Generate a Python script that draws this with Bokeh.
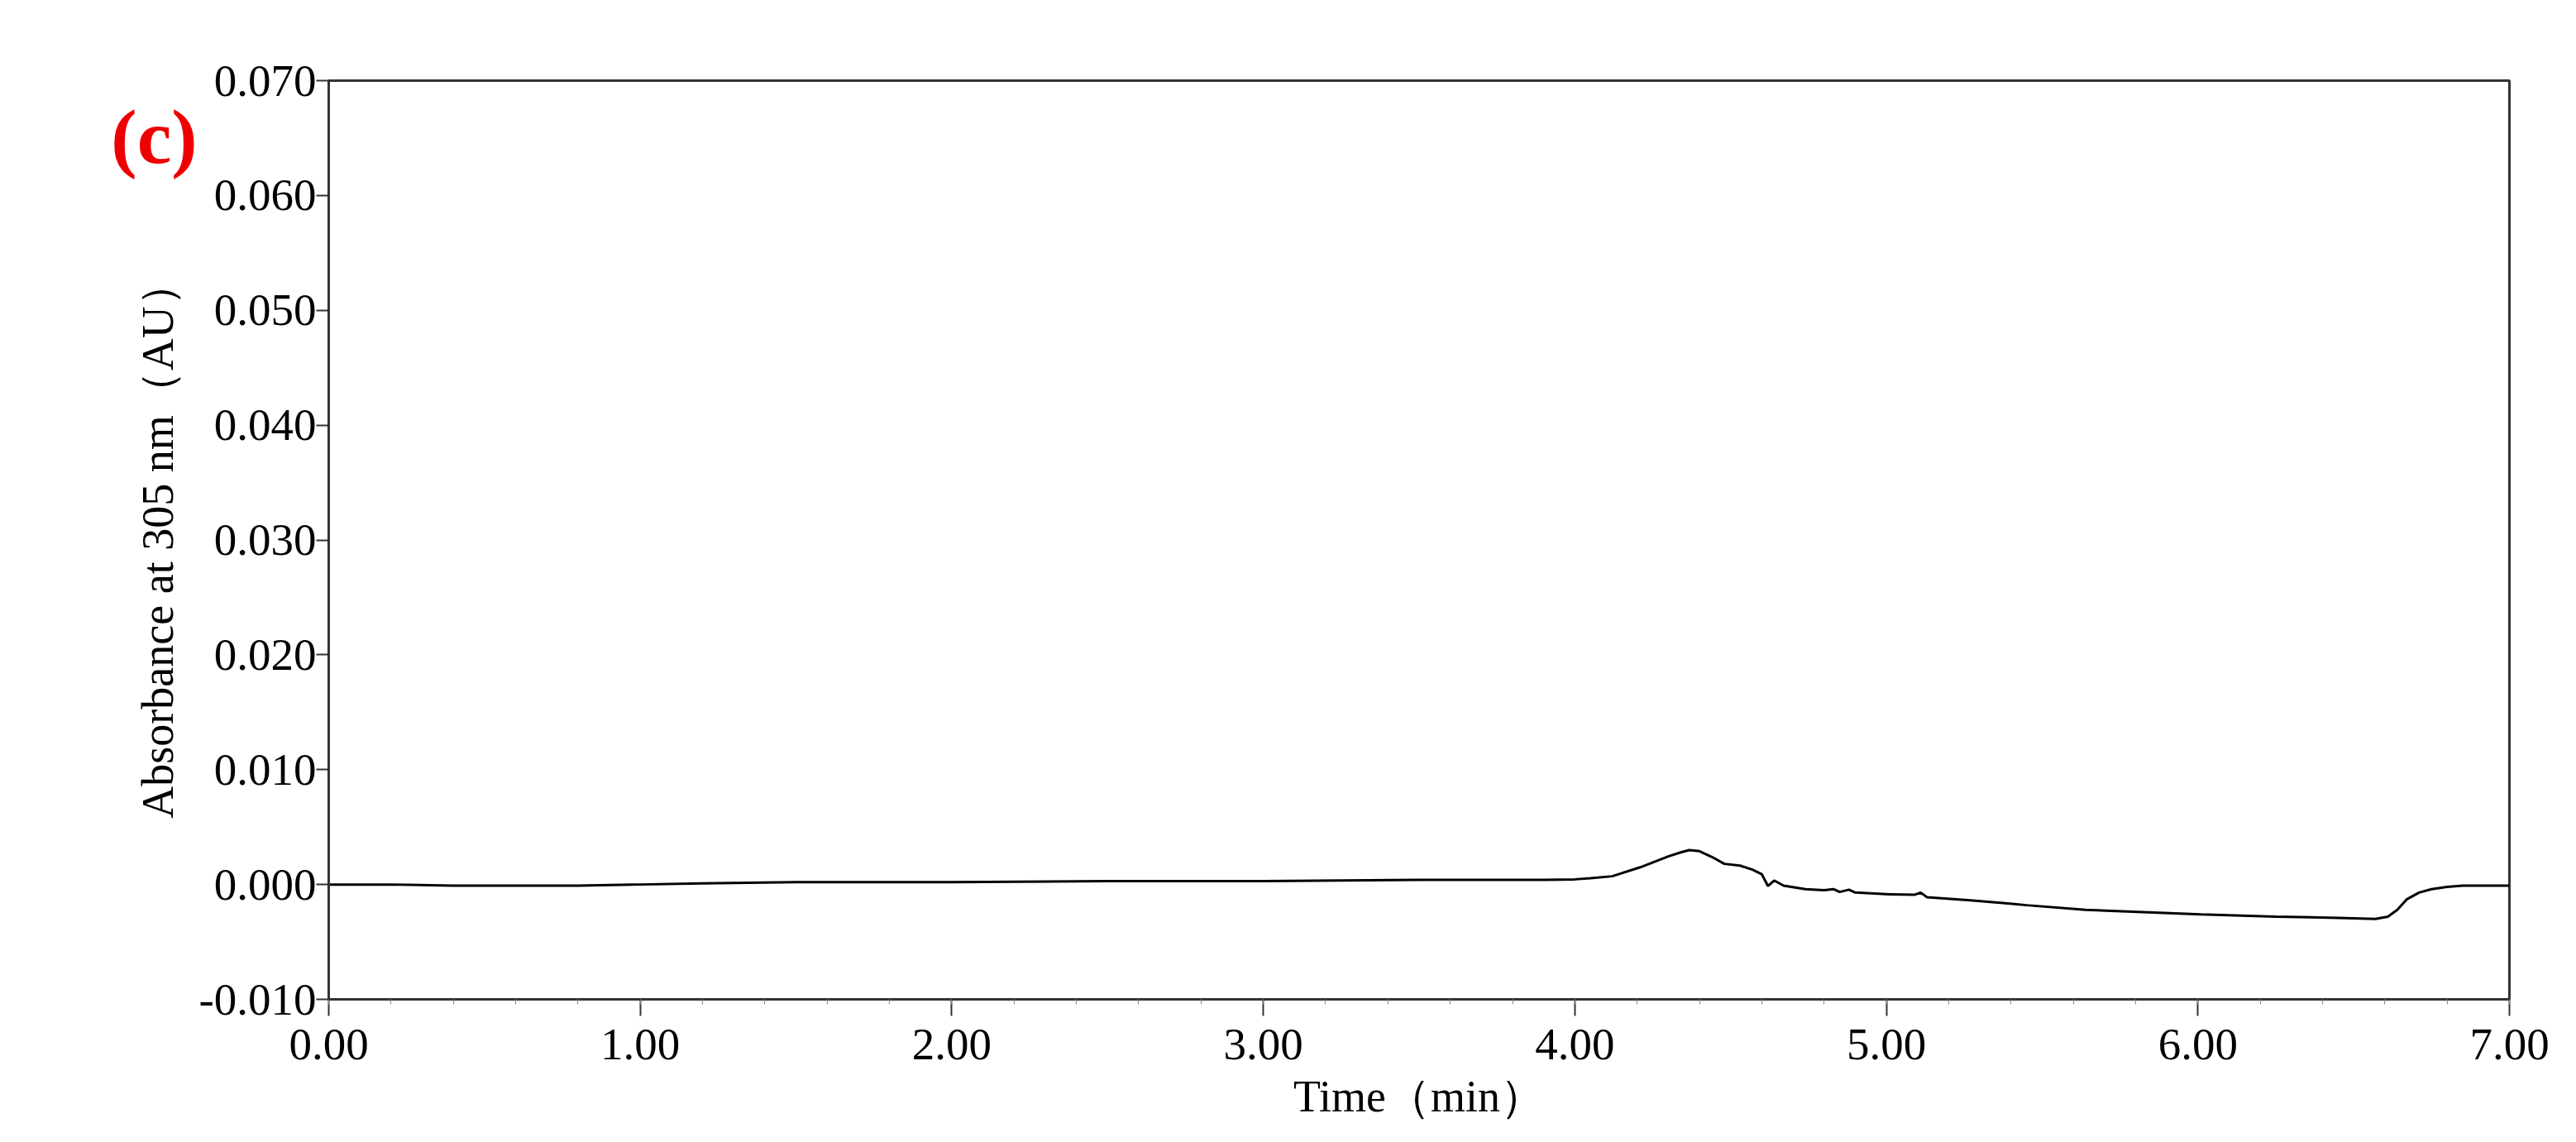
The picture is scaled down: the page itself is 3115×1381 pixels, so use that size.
from bokeh.plotting import figure
from bokeh.models import FixedTicker, PrintfTickFormatter, Range1d, Label
from bokeh.embed import file_html
from bokeh.resources import INLINE

# ---- data ----
time_min = [0.00, 0.20, 0.40, 0.60, 0.80, 1.00, 1.20, 1.50, 1.80, 2.00, 2.50, 3.00,
            3.50, 3.90, 4.00, 4.05, 4.12, 4.21, 4.30, 4.34, 4.367, 4.40, 4.44,
            4.48, 4.53, 4.57, 4.60, 4.62, 4.64, 4.67, 4.74, 4.80, 4.83, 4.85,
            4.88, 4.90, 5.01, 5.09, 5.11, 5.13, 5.27, 5.39, 5.45, 5.64, 6.01,
            6.25, 6.45, 6.57, 6.61, 6.64, 6.67, 6.71, 6.75, 6.80, 6.85, 6.92, 7.00]
absorbance = [0.0000, 0.0000, -0.0001, -0.0001, -0.0001, 0.0000, 0.0001, 0.0002,
              0.0002, 0.0002, 0.0003, 0.0003, 0.0004, 0.0004, 0.00045, 0.00055,
              0.00072, 0.0015, 0.00245, 0.0028, 0.0030, 0.0029, 0.0024, 0.0018,
              0.00165, 0.0013, 0.0009, -0.00013, 0.00035, -0.0001, -0.0004,
              -0.0005, -0.0004, -0.00065, -0.00045, -0.0007, -0.00085, -0.0009,
              -0.0007, -0.0011, -0.00137, -0.00164, -0.0018, -0.0022, -0.0026,
              -0.0028, -0.0029, -0.0030, -0.0028, -0.0022, -0.0013, -0.0007,
              -0.0004, -0.0002, -0.0001, -0.0001, -0.0001]

x_major = [0, 1, 2, 3, 4, 5, 6, 7]
x_minor = [round(i * 0.2, 1) for i in range(36)]
y_major = [-0.010, 0.000, 0.010, 0.020, 0.030, 0.040, 0.050, 0.060, 0.070]

FONT = "Liberation Serif"

p = figure(width=3099, height=1365, output_backend="svg", toolbar_location=None,
           x_range=Range1d(0, 7), y_range=Range1d(-0.010, 0.070),
           min_border_left=397, min_border_right=65, min_border_top=97,
           min_border_bottom=157)
p.background_fill_color = "white"
p.border_fill_color = "white"
p.grid.visible = False
p.outline_line_color = "#333333"
p.outline_line_width = 3

p.line(time_min, absorbance, line_color="black", line_width=3)

# x axis
xa = p.xaxis[0]
xa.ticker = FixedTicker(ticks=x_major, minor_ticks=x_minor)
xa.formatter = PrintfTickFormatter(format="%.2f")
xa.axis_label = "Time（min）"
# y axis
ya = p.yaxis[0]
ya.ticker = FixedTicker(ticks=y_major)
ya.formatter = PrintfTickFormatter(format="%.3f")
ya.axis_label = "Absorbance at 305 nm（AU）"
ya.minor_tick_line_color = None

for ax in (xa, ya):
    ax.axis_line_color = "#333333"
    ax.axis_line_width = 3
    ax.major_tick_line_color = "#333333"
    ax.major_tick_line_width = 2
    ax.major_tick_in = 0
    ax.major_label_text_font = FONT
    ax.major_label_text_font_size = "55px"
    ax.major_label_text_color = "black"
    ax.axis_label_text_font = FONT
    ax.axis_label_text_font_size = "54px"
    ax.axis_label_text_font_style = "normal"
    ax.axis_label_text_color = "black"

xa.major_tick_out = 20
xa.minor_tick_out = 6
xa.minor_tick_in = 0
xa.minor_tick_line_color = "#888888"
xa.minor_tick_line_width = 1
xa.major_label_standoff = 16
xa.axis_label_standoff = 12
ya.major_tick_out = 15
ya.major_label_standoff = 0
ya.axis_label_standoff = 16

panel_label = Label(x=186, y=164, x_units="canvas", y_units="canvas", text="(c)",
                    text_font=FONT, text_font_size="94px", text_font_style="bold",
                    text_color="#ee0000", text_align="center",
                    text_baseline="middle")
p.add_layout(panel_label, "left")

open("out.html", "w").write(file_html(p, INLINE))
